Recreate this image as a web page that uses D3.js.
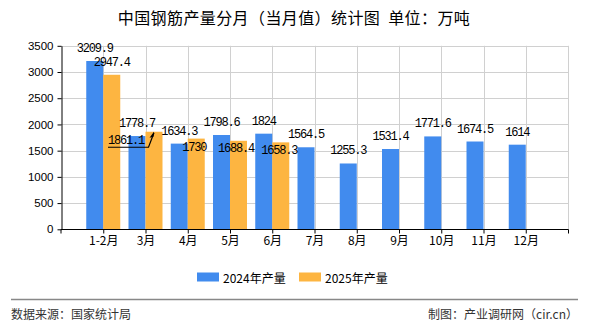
<!DOCTYPE html>
<html><head><meta charset="utf-8">
<script src="https://cdn.jsdelivr.net/npm/d3@7"></script>
<style>body{margin:0;background:#fff}svg{display:block}</style>
</head><body>
<script>
const categories = ["1-2月","3月","4月","5月","6月","7月","8月","9月","10月","11月","12月"];
const values2024 = [3209.9,1778.7,1634.3,1798.6,1824,1564.5,1255.3,1531.4,1771.6,1674.5,1614];
const values2025 = [2947.4,1861.1,1730,1688.4,1658.3,null,null,null,null,null,null];
const seriesNames = ["2024年产量","2025年产量"];
const yTicks = [0,500,1000,1500,2000,2500,3000,3500];

const W=590,H=330;
const colors=["#418bee","#fdb541"];
const svg=d3.select("body").append("svg").attr("width",W).attr("height",H);
const cjk='"Noto Sans CJK SC","Noto Sans",sans-serif';

const x=d3.scalePoint().domain(categories).range([61,568]).padding(1);
const y=d3.scaleLinear().domain([0,3500]).range([229.3,45.8]);
const bw=17;

// title
svg.append("text").attr("x",294).attr("y",17).attr("text-anchor","middle")
  .attr("dominant-baseline","central").style("font-family",cjk).style("font-size","16px")
  .style("letter-spacing","0.4px").style("white-space","pre")
  .attr("fill","#000").text("中国钢筋产量分月（当月值）统计图  单位：万吨");

// grid
const g=svg.append("g");
g.selectAll("line.h").data(yTicks).join("line").attr("x1",61).attr("x2",568)
  .attr("y1",d=>Math.round(y(d))+0.5).attr("y2",d=>Math.round(y(d))+0.5).attr("stroke","#d0d0d0");
g.selectAll("line.v").data(categories).join("line")
  .attr("x1",d=>Math.round(x(d))+0.5).attr("x2",d=>Math.round(x(d))+0.5)
  .attr("y1",y(3500)).attr("y2",y(0)).attr("stroke","#d0d0d0");
g.append("line").attr("x1",568.5).attr("x2",568.5).attr("y1",y(3500)).attr("y2",y(0)).attr("stroke","#d0d0d0");

// bars
const data=[];
categories.forEach((c,i)=>{
  data.push({c,s:0,v:values2024[i]});
  if(values2025[i]!=null) data.push({c,s:1,v:values2025[i]});
});
svg.append("g").selectAll("rect").data(data).join("rect")
  .attr("x",d=>x(d.c)-(d.s===0?bw:0)).attr("width",bw)
  .attr("y",d=>y(d.v)).attr("height",d=>y(0)-y(d.v)).attr("fill",d=>colors[d.s]);

// axes
const yAxis=d3.axisLeft(y).tickValues(yTicks).tickFormat(d3.format("d")).tickSize(4).tickSizeOuter(0);
const ya=svg.append("g").attr("transform","translate(61.5,0)").call(yAxis);
ya.select(".domain").attr("stroke","#000");
ya.selectAll(".tick line").attr("stroke","#000");
ya.selectAll("text").style("font-family",'"Liberation Sans",Arial,sans-serif').style("font-size","11.5px").attr("fill","#000").attr("dx","-1");

const xAxis=d3.axisBottom(x).tickSize(4).tickSizeOuter(4);
const xa=svg.append("g").attr("transform","translate(0,229.5)").call(xAxis);
xa.select(".domain").attr("stroke","#000").attr("d","M61,4V0H568.5V4");
xa.selectAll(".tick line").attr("stroke","#000");
xa.selectAll("text").style("font-family",cjk).style("font-size","12px").attr("fill","#000").attr("y",7);

// value labels
const nudge={"1|3月":[-28,21.3],"1|4月":[-2,21],"1|5月":[-2.5,20.6],"1|6月":[-1.5,20.7]};
const lab=svg.append("g");
data.forEach(d=>{
  const cx=x(d.c)+(d.s===0?-bw/2:bw/2);
  const n=nudge[d.s+"|"+d.c]||[0,0];
  lab.append("text").attr("x",cx+n[0]).attr("y",y(d.v)-12+n[1]).attr("text-anchor","middle")
    .attr("dominant-baseline","central").style("font-family",'"Liberation Mono",monospace')
    .style("font-size","12px").style("letter-spacing","-1.2px").attr("fill","#000").text(d.v);
});
// leader line for nudged 2025 March label
{
  const d=data.find(e=>e.s===1&&e.c==="3月");
  const tx=x(d.c)+bw/2, ty=y(d.v);
  const pts=[[tx-46,ty+15.5],[tx-5.5,ty+15.5],[tx,ty+1]];
  lab.append("path").attr("d",d3.line()(pts)).attr("fill","none").attr("stroke","#000").attr("stroke-width",1.2);
  lab.append("path").attr("d",`M${tx},${ty}L${tx-4.5},${ty+6}L${tx-0.5},${ty+5}Z`).attr("fill","#000");
}

// legend
const lg=svg.append("g");
seriesNames.forEach((s,i)=>{
  const lx=197+i*102;
  lg.append("rect").attr("x",lx).attr("y",272.5).attr("width",22).attr("height",9).attr("fill",colors[i]);
  lg.append("text").attr("x",lx+26).attr("y",277).attr("dominant-baseline","central")
    .style("font-family",cjk).style("font-size","12px").attr("fill","#000").text(s);
});

// footer
svg.append("line").attr("x1",11).attr("x2",578).attr("y1",299.5).attr("y2",299.5).attr("stroke","#888").attr("stroke-width",1.3);
svg.append("text").attr("x",11).attr("y",313).attr("dominant-baseline","central")
  .style("font-family",cjk).style("font-size","12px").attr("fill","#333").text("数据来源：国家统计局");
svg.append("text").attr("x",578).attr("y",313).attr("text-anchor","end").attr("dominant-baseline","central")
  .style("font-family",cjk).style("font-size","12px").attr("fill","#333").text("制图：产业调研网（cir.cn）");
</script>
</body></html>
